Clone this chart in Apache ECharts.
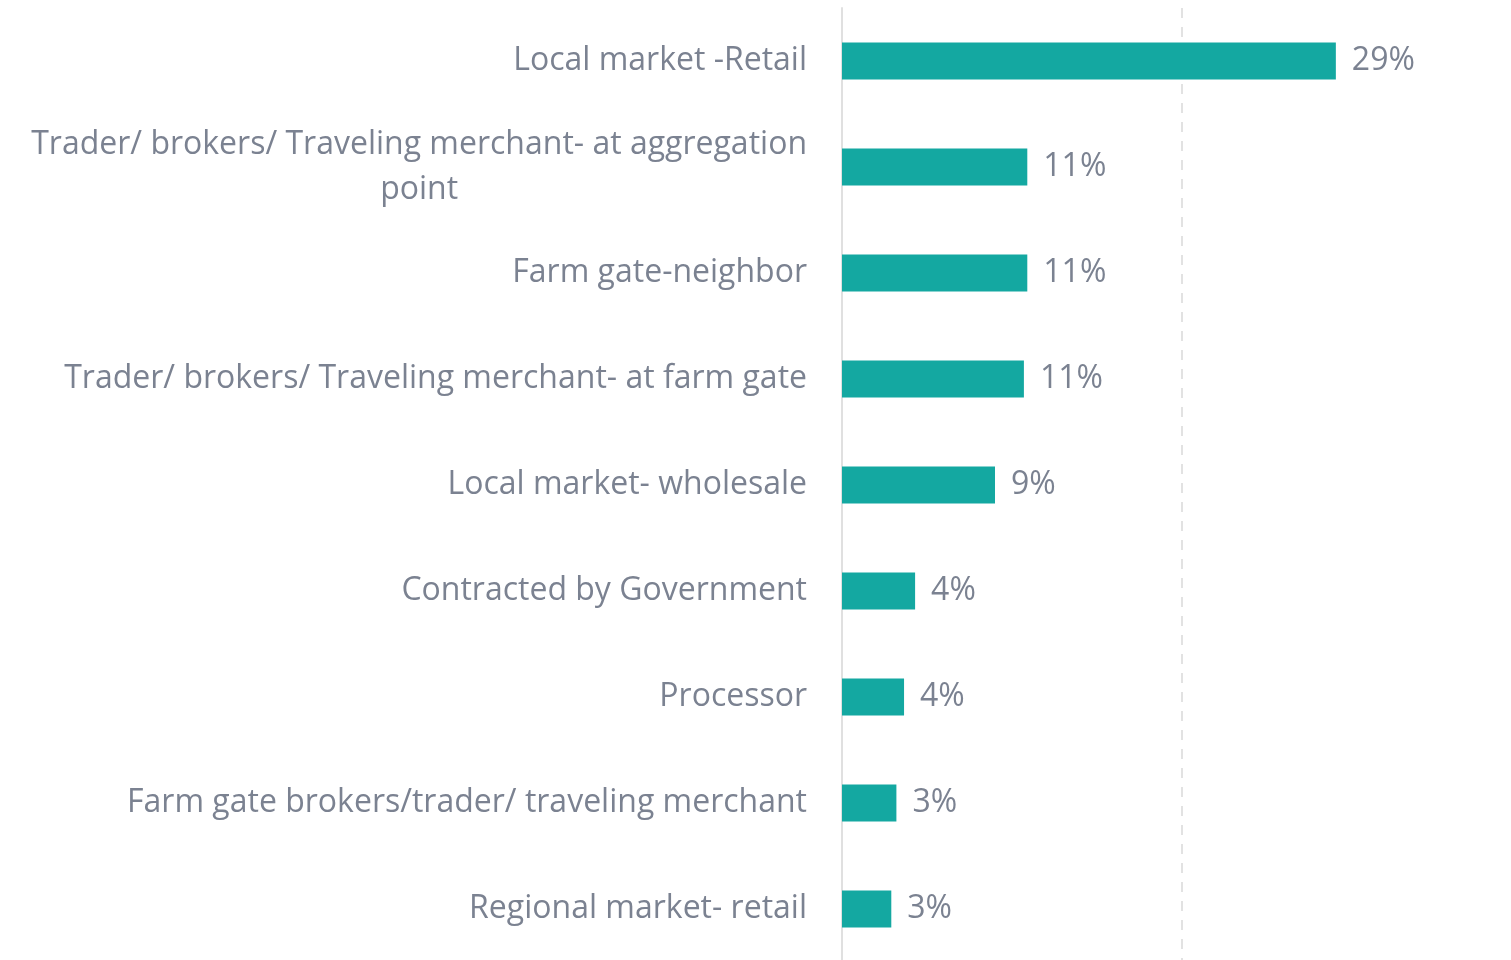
<!DOCTYPE html>
<html>
<head>
<meta charset="utf-8">
<script src="https://cdn.jsdelivr.net/npm/echarts@6/dist/echarts.min.js"></script>
<style>
  html, body { margin: 0; padding: 0; background: #fff; }
  #chart { width: 1511px; height: 960px; }
</style>
</head>
<body>
<div id="chart"></div>
<script>
// outlets, top to bottom
var categories = [
  'Local market -Retail',
  'Trader/ brokers/ Traveling merchant- at aggregation\npoint',
  'Farm gate-neighbor',
  'Trader/ brokers/ Traveling merchant- at farm gate',
  'Local market- wholesale',
  'Contracted by Government',
  'Processor',
  'Farm gate brokers/trader/ traveling merchant',
  'Regional market- retail'
];
// share of respondents, %
var shares = [29.05, 10.9, 10.9, 10.7, 9.0, 4.3, 3.65, 3.2, 2.9];

var textColor = '#7b8291';
var fontFamily = '"Open Sans", Lato, sans-serif';

var chart = echarts.init(document.getElementById('chart'));
chart.setOption({
  animation: false,
  grid: {
    left: 842,
    right: -11,
    top: 8,
    bottom: -2,
    containLabel: false,
    outerBoundsMode: 'none'
  },
  xAxis: {
    type: 'value',
    min: 0,
    max: 40,
    interval: 20,
    axisLabel: { show: false },
    axisLine: { show: false },
    axisTick: { show: false },
    splitLine: {
      show: true,
      lineStyle: { color: '#e2e2e2', width: 2, type: [10, 9] }
    }
  },
  yAxis: {
    type: 'category',
    inverse: true,
    data: categories,
    axisTick: { show: false },
    axisLine: { show: true, lineStyle: { color: '#e0e0e0', width: 2 } },
    axisLabel: {
      margin: 35,
      color: textColor,
      fontFamily: fontFamily,
      fontSize: 32,
      align: 'right',
      formatter: function (v) {
        return v.split('\n').map(function (s) { return '{c|' + s + '}'; }).join('\n');
      },
      rich: {
        c: {
          align: 'center',
          color: textColor,
          fontFamily: fontFamily,
          fontSize: 32,
          lineHeight: 45
        }
      }
    }
  },
  series: [{
    type: 'bar',
    data: shares,
    barWidth: 37,
    itemStyle: { color: '#14a8a1' },
    label: {
      show: true,
      position: 'right',
      distance: 16,
      color: textColor,
      fontFamily: fontFamily,
      fontSize: 32,
      formatter: function (p) { return Math.round(p.value) + '%'; }
    }
  }]
});
</script>
</body>
</html>
